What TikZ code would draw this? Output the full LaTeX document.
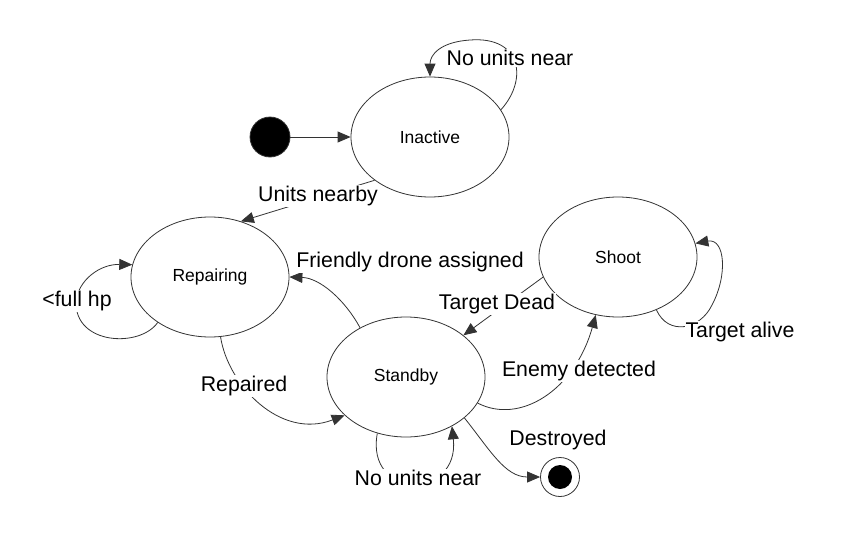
\documentclass[tikz,border=0pt]{standalone}
\usepackage{fontspec}
\setmainfont{Liberation Sans}
\usetikzlibrary{arrows.meta}
\usetikzlibrary{shapes.geometric}
\tikzset{
    state/.style = {shape=ellipse,draw=black!80,line width=0.8pt,minimum width=158pt,minimum height=120pt,font=\fontsize{17.5}{20}\selectfont},
    initst/.style = {shape=circle,fill=black,draw=black!80,line width=0.8pt,minimum size=40pt,inner sep=0},
    finalst/.style = {shape=circle,draw=black!80,line width=0.8pt,minimum size=39pt,inner sep=0,
        path picture={\fill[black] (path picture bounding box.center) circle (12pt);}},
    trans/.style = {draw=black!80,line width=0.8pt,-{Triangle[length=13pt,width=11pt]}},
    lbl/.style = {fill=white,inner sep=1pt,font=\fontsize{21.3}{24}\selectfont}
}
\begin{document}
\begin{tikzpicture}[x=1pt,y=-1pt]
    \useasboundingbox (0,0) rectangle (852,538);
    % States
    \node[initst] (init) at (270,137) {};
    \node[state] (inactive) at (430,137) {Inactive};
    \node[state] (repairing) at (210,277) {Repairing};
    \node[state] (standby) at (406,377) {Standby};
    \node[state] (shoot) at (618,257) {Shoot};
    \node[finalst] (final) at (560,477) {};
    % Transitions
    \draw[trans] (init) -- (inactive);
    \draw[trans] (inactive.21) .. controls (528,80) and (522,36) .. (470,40)
        .. controls (440,42) and (430,55) .. (inactive.north);
    \draw[trans] (inactive.218) -- (repairing.61);
    \draw[trans] (repairing.221) .. controls (140,348) and (75,345) .. (76,302)
        .. controls (78,280) and (100,264) .. (repairing.171);
    \draw[trans] (standby.133) .. controls (345,300) and (320,278) .. (repairing.east);
    \draw[trans] (repairing.280) .. controls (228,385) and (280,440) .. (standby.212);
    \draw[trans] (shoot.195) -- (standby.36);
    \draw[trans] (standby.340) .. controls (520,425) and (575,390) .. (shoot.249);
    \draw[trans] (shoot.306) .. controls (668,336) and (700,330) .. (712,305)
        .. controls (728,275) and (725,238) .. (shoot.10);
    \draw[trans] (standby.243) .. controls (365,500) and (460,500) .. (standby.313);
    \draw[trans] (standby.325) .. controls (490,450) and (505,477) .. (final.west);
    % Labels
    \node[lbl] (lnoinact) at (510,58) {No units near};
    \node[lbl] (lnearby) at (318,196) {Units nearby};
    \node[lbl] (lfullhp) at (77,301) {<full hp};
    \node[lbl] (lfriendly) at (410,262) {Friendly drone assigned};
    \node[lbl] (lrepaired) at (244,386) {Repaired};
    \node[lbl] (ldead) at (497,304) {Target Dead};
    \node[lbl] (lenemy) at (579,371) {Enemy detected};
    \node[lbl] (lalive) at (740,332) {Target alive};
    \node[lbl] (lnostand) at (418,478) {No units near};
    \node[lbl] (ldestroyed) at (558,440) {Destroyed};
\end{tikzpicture}
\end{document}
